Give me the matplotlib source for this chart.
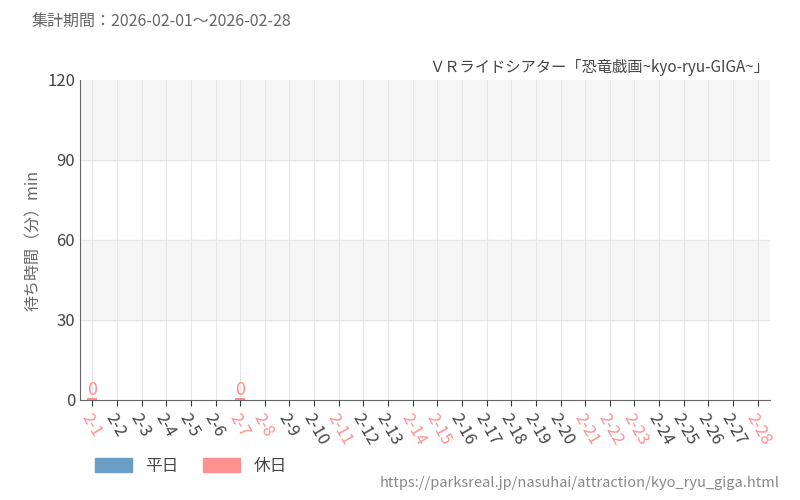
import matplotlib.pyplot as plt
from matplotlib.patches import Patch

plt.rcParams['font.family'] = ['Noto Sans CJK JP', 'DejaVu Sans']

days = [f'2-{d}' for d in range(1, 29)]
holidays = ['2-1', '2-7', '2-8', '2-11', '2-14', '2-15', '2-21', '2-22', '2-23', '2-28']
# 待ち時間（分）: None = データなし
waits = [0, None, None, None, None, None, 0] + [None] * 21

weekday_c = '#6a9ec5'
holiday_c = '#ff9090'

fig = plt.figure(figsize=(8, 5), dpi=100)
ax = fig.add_axes([0.1, 0.2, 0.8625, 0.64])

for lo, hi in [(30, 60), (90, 120)]:
    ax.axhspan(lo, hi, color='#f6f6f6', zorder=0)
x = list(range(len(days)))
for i in x:
    ax.axvline(i, color='#e6e6e6', lw=0.8, zorder=0)
for yv in [30, 60, 90]:
    ax.axhline(yv, color='#e6e6e6', lw=0.8, zorder=0)

for i, (d, w) in enumerate(zip(days, waits)):
    if w is None:
        continue
    c = holiday_c if d in holidays else weekday_c
    ax.bar(i, max(w, 0.6), width=0.4, color=c, zorder=2)
    ax.text(i, w + 0.5, f'{w}', ha='center', va='bottom', color=c, fontsize=13)

ax.set_xlim(-0.5, len(days) - 0.5)
ax.set_ylim(0, 120)
ax.set_yticks([0, 30, 60, 90, 120])
ax.set_xticks(x)
ax.set_xticklabels(days, rotation=-60, ha='left', rotation_mode='anchor', fontsize=12)
for lab, d in zip(ax.get_xticklabels(), days):
    lab.set_color(holiday_c if d in holidays else '#444444')
ax.tick_params(axis='y', labelsize=12, colors='#444444', length=0)
ax.tick_params(axis='x', length=4, color='#333333')
for s in ['top', 'right']:
    ax.spines[s].set_visible(False)
ax.spines['left'].set_color('#666666')
ax.spines['bottom'].set_color('#666666')
ax.set_ylabel('待ち時間（分）min', color='#666666', fontsize=11.5)

fig.text(0.04, 0.955, '集計期間：2026-02-01～2026-02-28', color='#666666', fontsize=11.5, va='center')
fig.text(0.962, 0.865, 'ＶＲライドシアター「恐竜戯画~kyo-ryu-GIGA~」', color='#444444', fontsize=11, ha='right', va='center')
fig.text(0.975, 0.035, 'https://parksreal.jp/nasuhai/attraction/kyo_ryu_giga.html', color='#888888', fontsize=10.5, ha='right', va='center')

fig.legend(handles=[Patch(color=weekday_c, label='平日'), Patch(color=holiday_c, label='休日')],
           loc='center left', bbox_to_anchor=(0.1, 0.067), ncol=2, frameon=False,
           fontsize=12, handlelength=2.2, handleheight=0.9, columnspacing=1.5, labelcolor='#444444')

fig.savefig('out.png')
